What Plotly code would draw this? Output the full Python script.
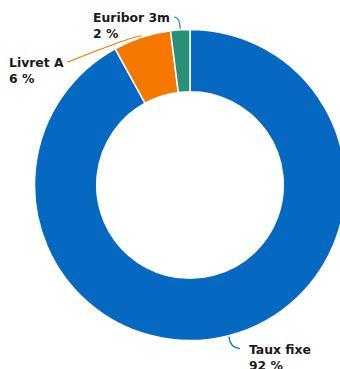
import math
import plotly.graph_objects as go

# ---- data ----
labels = ["Taux fixe", "Livret A", "Euribor 3m"]
values = [92, 6, 2]
colors = ["#0568C1", "#F67800", "#2A9079"]

# ---- layout geometry ----
W, H = 380, 369
dom_x = [0.0908, 0.9092]
dom_y = [0.0772, 0.9201]
hole = 0.60

fig = go.Figure(go.Pie(
    labels=labels, values=values, sort=False, direction="clockwise", rotation=0,
    hole=hole, domain=dict(x=dom_x, y=dom_y),
    marker=dict(colors=colors, line=dict(color="white", width=1.5)),
    textinfo="none", hoverinfo="label+percent", showlegend=False,
))

# pie center / radius in pixels (from the domain)
cxp = (dom_x[0] + dom_x[1]) / 2 * W
cyp = (1 - (dom_y[0] + dom_y[1]) / 2) * H
Rp = min((dom_x[1] - dom_x[0]) * W, (dom_y[1] - dom_y[0]) * H) / 2

def px(x):
    return x / W

def py(y):
    return 1 - y / H

# label-line styling per slice: (end offset dx, dy), control offset, side
style = {
    "Taux fixe": dict(end=(11, 12), ctrl=(1, 11), side="right"),
    "Livret A": dict(end=(-74, 26), ctrl=(-4, -2), side="left"),
    "Euribor 3m": dict(end=(-6, -12), ctrl=(0, -11), side="left"),
}

total = sum(values)
cum = 0
shapes, annotations = [], []
for lab, v, c in zip(labels, values, colors):
    mid = (cum + v / 2) / total * 2 * math.pi
    cum += v
    x0 = cxp + (Rp + 1) * math.sin(mid)
    y0 = cyp - (Rp + 1) * math.cos(mid)
    s = style[lab]
    x2, y2 = x0 + s["end"][0], y0 + s["end"][1]
    xc, yc = x0 + s["ctrl"][0], y0 + s["ctrl"][1]
    shapes.append(dict(
        type="path", xref="paper", yref="paper",
        path=f"M {px(x0)} {py(y0)} Q {px(xc)} {py(yc)} {px(x2)} {py(y2)}",
        line=dict(color=c, width=1.2),
    ))
    pct = round(v / total * 100)
    txt = f"<b>{lab}</b><br><b>{pct} %</b>"
    if s["side"] == "right":
        ax, xa = x2 + 7, "left"
    else:
        ax, xa = x2 - 2, "right"
    annotations.append(dict(
        x=px(ax), y=py(y2 - 9), xref="paper", yref="paper",
        xanchor=xa, yanchor="top", align="left", showarrow=False,
        text=txt, font=dict(family="DejaVu Sans", size=12.4, color="#1a1a1a"),
    ))

fig.update_layout(
    width=W, height=H, margin=dict(l=0, r=0, t=0, b=0),
    paper_bgcolor="white", plot_bgcolor="white",
    shapes=shapes, annotations=annotations,
)

fig.write_html("out.html")
